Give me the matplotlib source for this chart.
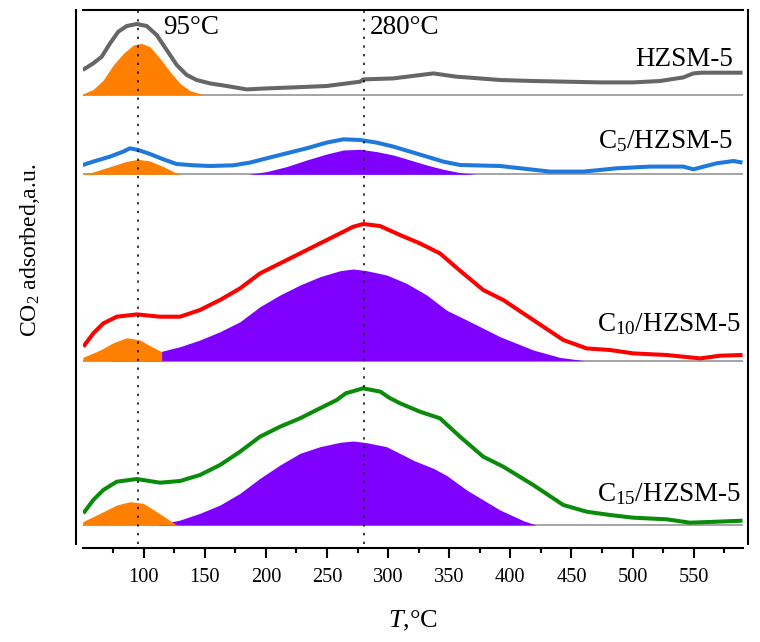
import matplotlib
matplotlib.use("Agg")
import matplotlib.pyplot as plt
import numpy as np

plt.rcParams['font.family'] = ['Liberation Serif', 'DejaVu Serif']
plt.rcParams['mathtext.fontset'] = 'custom'
plt.rcParams['mathtext.rm'] = 'Liberation Serif'
plt.rcParams['mathtext.it'] = 'Liberation Serif:italic'

# ---------------- data (a.u., stacked panels) ----------------
samples = ["HZSM-5", "C5/HZSM-5", "C10/HZSM-5", "C15/HZSM-5"]
sample_labels = ["HZSM-5", r"C$_{5}$/HZSM-5", r"C$_{10}$/HZSM-5", r"C$_{15}$/HZSM-5"]
offsets = [449.3, 369.7, 183.3, 19.0]
line_colors = ["#666666", "#1F78DC", "#FF0000", "#0A8C0A"]

# HZSM-5
h_T = [50.2, 58.8, 65.7, 72.5, 79.3, 86.2, 94.4, 102.5, 110.7, 118.9, 127.1, 135.3, 143.4,
       154.3, 168, 184.3, 200.7, 222.5, 249.8, 277.1, 279.8, 304.3, 337, 356, 364.3, 391.6,
       418.9, 446.1, 473.4, 500.7, 522.5, 541.6, 549.8, 556.5, 590]
h_y = [24.7, 31.3, 38, 51.3, 63, 68.7, 70.7, 68.7, 59.7, 44.7, 29.7, 19.7, 14.7,
       11.3, 8.7, 5.3, 6.3, 7.3, 8.7, 13, 15.3, 16.3, 21.3, 18, 17.3, 14.7,
       13.7, 13, 12.3, 12.3, 13.7, 17.3, 21.3, 22, 22]
h_low_T = [50, 58.8, 67, 75.2, 83.4, 91.6, 98.4, 105.2, 113.4, 121.6, 129.8, 138, 148.9]
h_low_y = [0.7, 5.3, 14.7, 29.7, 41.3, 49.7, 51.3, 48, 36.3, 23, 11.3, 4, 0]

# C5/HZSM-5
c5_T = [50.2, 58.8, 72.5, 83.4, 88.8, 95.6, 105.2, 116.1, 127, 140.7, 154.3, 173.4, 187,
        200.7, 217, 233.4, 249.8, 263.4, 277.1, 290.7, 304.3, 318, 331.6, 345.2, 358.9,
        391.6, 432.5, 459.8, 487, 514.3, 541.6, 549.8, 568.9, 582.6, 590]
c5_y = [9.3, 12.7, 17.7, 22.7, 26, 24.3, 20.3, 15, 10.3, 9, 8.3, 9, 11.7,
        16, 21, 26, 31.7, 35, 34.3, 31.7, 27.7, 22.7, 17.7, 12.7, 9.3,
        8.3, 2.7, 2.7, 6, 7.7, 7.7, 5, 11, 13.3, 11.7]
c5_low_T = [50, 58.8, 72.5, 86.2, 95.6, 105.2, 116.1, 124.3, 129.8]
c5_low_y = [0.3, 2.3, 7.7, 13, 15, 13.3, 7.7, 2.7, 0]
c5_high_T = [185.6, 200.7, 217, 233.4, 249.8, 263.4, 277.1, 290.7, 304.3, 318, 331.6,
             345.2, 358.9, 372]
c5_high_y = [0, 2.7, 7.7, 14.3, 20.3, 24.3, 25, 22.7, 19.3, 14.3, 9.3,
             5, 1.7, 0]

# C10/HZSM-5
c10_T = [50.7, 58.8, 67, 78, 94.4, 113.4, 129.8, 146.1, 162.5, 178.9, 195.2, 211.6, 228,
         244.3, 260.7, 271.6, 279.8, 293.4, 309.8, 326.1, 342.5, 358.9, 377.9, 394.3,
         418.8, 443.4, 462.5, 481.6, 500.7, 528, 555.3, 571.7, 590]
c10_y = [14, 27.3, 37.3, 44, 46.3, 44, 44, 50.7, 60.7, 72.3, 87.3, 97.3, 107.3,
         117.3, 127.3, 134, 136.7, 134.7, 125.7, 117.3, 107.3, 90, 70.7, 60.7,
         40.7, 20.7, 12.3, 10.7, 7.3, 5.7, 2.3, 5, 5.7]
c10_low_T = [50.2, 64.4, 75.2, 86.2, 97.1, 106.6, 114.8]
c10_low_y = [3.3, 10.7, 18, 23, 20.7, 14, 9]
c10_high_T = [72.5, 94.4, 113.4, 129.8, 146.1, 162.5, 178.9, 195.2, 211.6, 228, 244.3,
              260.7, 271.6, 282.5, 298.8, 315.2, 331.6, 347.9, 364.3, 391.6, 418.8,
              440.6, 461]
c10_high_y = [0, 2.3, 9, 14, 20.7, 29, 39, 54, 65.7, 75.7, 84,
              90, 91.7, 90, 85.7, 77.3, 65.7, 50.5, 40.7, 24, 10.7,
              3.3, 0]

# C15/HZSM-5
c15_T = [50.7, 58.8, 67, 78, 94.4, 113.4, 129.8, 146.1, 162.5, 178.9, 195.2, 211.6, 228,
         244.3, 258, 265.4, 279.6, 293.8, 300.9, 309.8, 326.1, 342.5, 358.9, 377.9, 394.3,
         418.8, 443.4, 462.5, 481.6, 500.7, 528, 547, 568.9, 590]
c15_y = [11.7, 25, 35, 43.3, 46, 42.3, 44, 50, 60, 73.3, 88.3, 98.3, 106.7,
         116.7, 125, 131.7, 136.7, 133.3, 127.3, 121.7, 113.3, 106.7, 88.3, 68.3, 58.3,
         40, 20, 13.3, 10, 7.3, 5.7, 2.3, 3.3, 4.3]
c15_low_T = [50.2, 64.4, 78, 88.8, 99.7, 110.7, 118.9, 125.7, 128]
c15_low_y = [3.3, 11.7, 20, 23.3, 21.7, 13.3, 6.7, 1, 0]
c15_high_T = [110.7, 129.8, 146.1, 162.5, 178.9, 195.2, 211.6, 228, 244.3, 260.7, 271.6,
              282.5, 298.8, 309.8, 322, 337, 348, 364.3, 391.6, 410.7, 421.1]
c15_high_y = [0, 5, 11.7, 20, 31.7, 46.7, 60, 71.7, 78.3, 82.7, 84,
              82.3, 78.3, 71.5, 64, 56.7, 49.5, 35, 15, 4.3, 0]

curves = [(h_T, h_y), (c5_T, c5_y), (c10_T, c10_y), (c15_T, c15_y)]
low_peaks = [(h_low_T, h_low_y), (c5_low_T, c5_low_y), (c10_low_T, c10_low_y), (c15_low_T, c15_low_y)]
high_peaks = [None, (c5_high_T, c5_high_y), (c10_high_T, c10_high_y), (c15_high_T, c15_high_y)]

ref_temps = [95, 280]
ref_labels = ["95°C", "280°C"]
xticks_major = [100, 150, 200, 250, 300, 350, 400, 450, 500, 550]
xticks_minor = [75, 125, 175, 225, 275, 325, 375, 425, 475, 525, 575]

# ---------------- figure ----------------
fig = plt.figure(figsize=(7.6, 6.42), dpi=100)
ax = fig.add_axes([82.5 / 760, 1 - 544 / 642, 660 / 760, 534 / 642])
ax.set_xlim(50, 590)
ax.set_ylim(0, 534)

orange = "#FF8000"
purple = "#7F00FF"
for i in range(4):
    off = offsets[i]
    ax.axhline(off, color="#8C8C8C", lw=1.1, zorder=1)
    if high_peaks[i] is not None:
        T, y = high_peaks[i]
        ax.fill_between(T, off, off + np.array(y), color=purple, lw=0, zorder=2)
    T, y = low_peaks[i]
    ax.fill_between(T, off, off + np.array(y), color=orange, lw=0, zorder=3)
    T, y = curves[i]
    ax.plot(T, off + np.array(y), color=line_colors[i], lw=2.9, zorder=4,
            solid_joinstyle='round', solid_capstyle='butt')

for t in ref_temps:
    ax.axvline(t, color="black", lw=1.1, linestyle=(0, (1.5, 4.2)), zorder=5)

# annotations
ax.text(116.1, 510, ref_labels[0], fontsize=19.5, ha="left", va="baseline")
ax.text(285.2, 510, ref_labels[1], fontsize=19.5, ha="left", va="baseline")
label_pos = [(582.2, 478.3), (582.2, 395.7), (588.8, 213.3), (589.3, 43.3)]
for lab, (x, y) in zip(sample_labels, label_pos):
    ax.text(x, y, lab, fontsize=19.5, ha="right", va="baseline")

# spines
for s in ["left", "right", "top", "bottom"]:
    ax.spines[s].set_linewidth(1.5)
ax.spines["left"].set_position(("outward", 4.7))
ax.spines["right"].set_position(("outward", 4.0))
ax.spines["bottom"].set_position(("outward", 2.9))

ax.set_yticks([])
ax.set_xticks(xticks_major)
ax.set_xticks(xticks_minor, minor=True)
ax.tick_params(axis="x", which="major", direction="out", length=7.2, width=1.5,
               labelsize=14.7, pad=7)
ax.tick_params(axis="x", which="minor", direction="out", length=3.6, width=1.5)
ax.set_xlabel(r"$T$,°C", fontsize=19, labelpad=16)

fig.text(30 / 760, 1 - 250 / 642, r"CO$_2$ adsorbed,a.u.", rotation=90,
         ha="center", va="center", fontsize=17)

fig.savefig("out.png", dpi=100)
